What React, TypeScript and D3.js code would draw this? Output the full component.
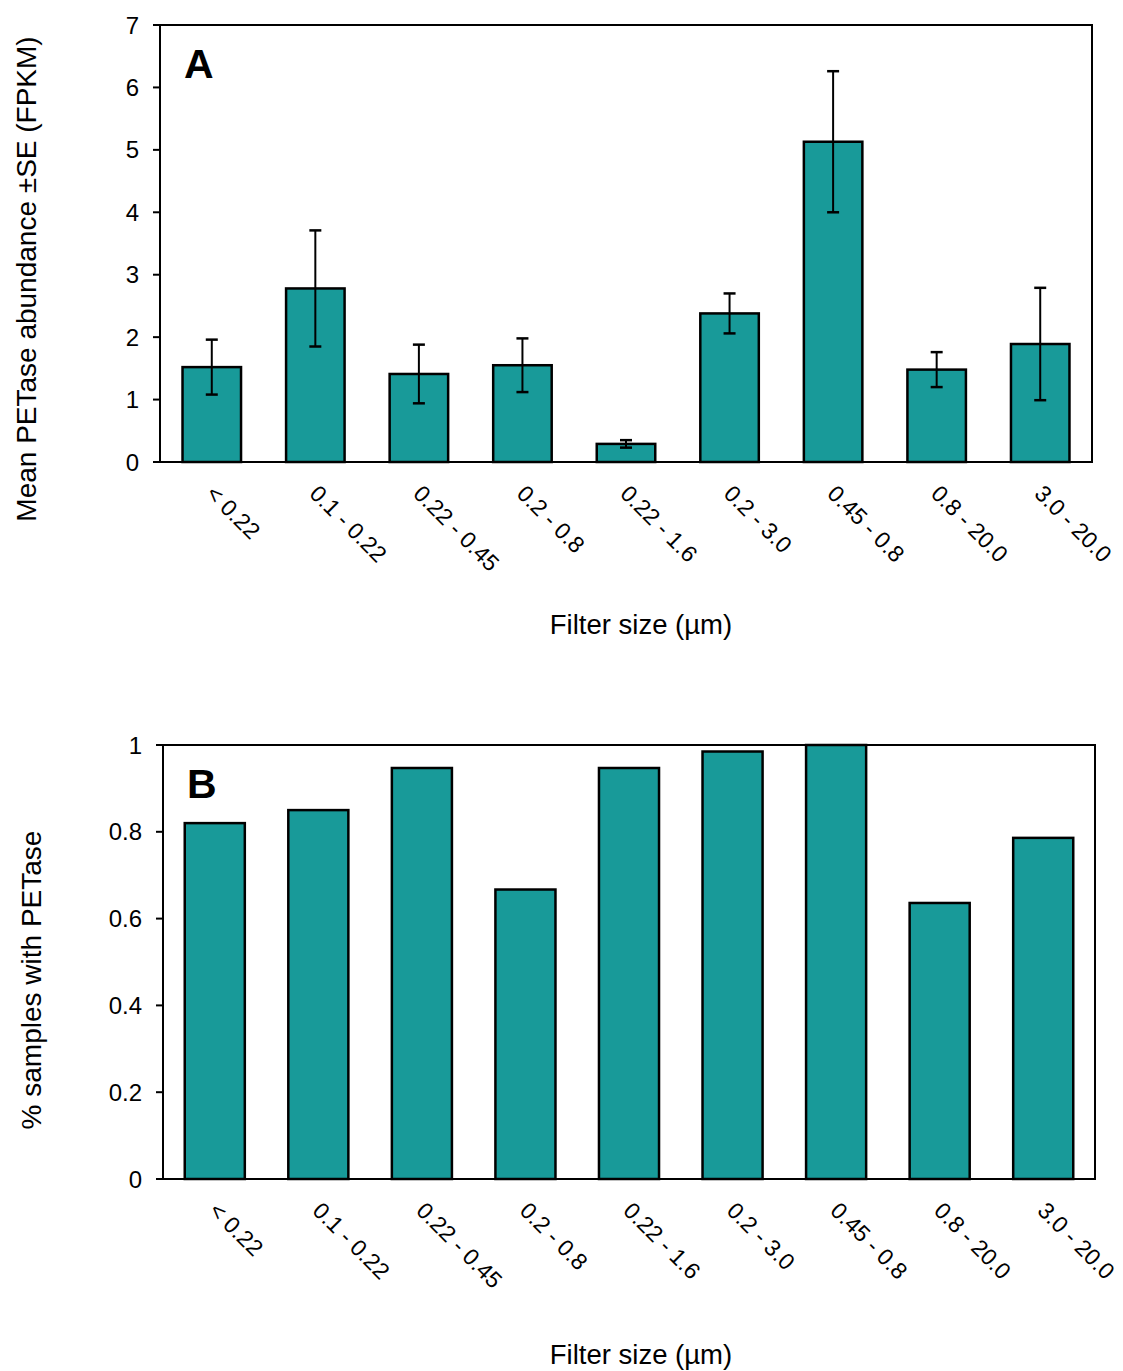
import * as d3 from "d3";

// categories shared by both panels
const filterSizes = ["< 0.22", "0.1 - 0.22", "0.22 - 0.45", "0.2 - 0.8", "0.22 - 1.6", "0.2 - 3.0", "0.45 - 0.8", "0.8 - 20.0", "3.0 - 20.0"];

// panel A: mean abundance and standard error
const meanAbundance = [1.52, 2.78, 1.41, 1.55, 0.29, 2.38, 5.13, 1.48, 1.89];
const abundanceSE = [0.44, 0.93, 0.47, 0.43, 0.06, 0.32, 1.13, 0.28, 0.9];
const ticksA = [0, 1, 2, 3, 4, 5, 6, 7];

// panel B: fraction of samples with PETase
const fractionWithPETase = [0.82, 0.85, 0.947, 0.667, 0.947, 0.985, 1.0, 0.636, 0.786];
const ticksB = [0, 0.2, 0.4, 0.6, 0.8, 1];

const FONT = "Liberation Sans, Arial, Helvetica, sans-serif";
const TEAL = "#189a99";

type PanelProps = {
  box: { left: number; right: number; top: number; bottom: number };
  values: number[];
  errors?: number[];
  ticks: number[];
  yMax: number;
  inner: number;
  letter: string;
  yLabel: string;
  yLabelPos: [number, number];
  titleY: number;
};

function Panel({ box, values, errors, ticks, yMax, inner, letter, yLabel, yLabelPos, titleY }: PanelProps) {
  const x = d3.scaleBand<string>()
    .domain(filterSizes)
    .range([box.left, box.right])
    .paddingInner(inner)
    .paddingOuter(inner / 2);
  const y = d3.scaleLinear().domain([0, yMax]).range([box.bottom, box.top]);
  const bw = x.bandwidth();
  const capW = 12;

  return (
    <g fontFamily={FONT}>
      {/* bars */}
      {filterSizes.map((c, i) => (
        <rect key={c} x={x(c)} y={y(values[i])} width={bw} height={y(0) - y(values[i])}
          fill={TEAL} stroke="#000" strokeWidth={2.5} />
      ))}
      {/* error bars */}
      {errors && filterSizes.map((c, i) => {
        const cx = (x(c) as number) + bw / 2;
        const hi = y(values[i] + errors[i]);
        const lo = y(values[i] - errors[i]);
        return (
          <g key={"e" + c} stroke="#000" strokeWidth={2}>
            <line x1={cx} x2={cx} y1={hi} y2={lo} />
            <line x1={cx - capW / 2} x2={cx + capW / 2} y1={hi} y2={hi} strokeWidth={2.5} />
            <line x1={cx - capW / 2} x2={cx + capW / 2} y1={lo} y2={lo} strokeWidth={2.5} />
          </g>
        );
      })}
      {/* frame */}
      <rect x={box.left} y={box.top} width={box.right - box.left} height={box.bottom - box.top}
        fill="none" stroke="#000" strokeWidth={2} />
      {/* y ticks */}
      {ticks.map((t) => (
        <g key={t}>
          <line x1={box.left - 7} x2={box.left} y1={y(t)} y2={y(t)} stroke="#000" strokeWidth={2} />
          <text x={box.left - 21} y={y(t)} dy="0.36em" textAnchor="end" fontSize={24}>
            {d3.format("~g")(t)}
          </text>
        </g>
      ))}
      {/* x labels */}
      {filterSizes.map((c) => {
        const cx = (x(c) as number) + bw / 2;
        return (
          <text key={"l" + c} transform={`translate(${cx - 7},${box.bottom + 33}) rotate(45)`} fontSize={23}>
            {c}
          </text>
        );
      })}
      <text x={641} y={titleY} textAnchor="middle" fontSize={27.5}>
        Filter size (µm)
      </text>
      <text transform={`translate(${yLabelPos[0]},${yLabelPos[1]}) rotate(-90)`} textAnchor="middle" fontSize={28}>
        {yLabel}
      </text>
      <text x={box.left + 24} y={box.top + 53} fontSize={41} fontWeight="bold">{letter}</text>
    </g>
  );
}

export default function App() {
  return (
    <svg width={1123} height={1371} style={{ position: "absolute", left: 0, top: 0, background: "#fff" }}>
      <Panel box={{ left: 160, right: 1092, top: 25, bottom: 462 }} values={meanAbundance} errors={abundanceSE}
        ticks={ticksA} yMax={7} inner={0.435} letter="A" yLabel="Mean PETase abundance ±SE (FPKM)"
        yLabelPos={[36, 279]} titleY={634} />
      <Panel box={{ left: 163, right: 1095, top: 745, bottom: 1179 }} values={fractionWithPETase}
        ticks={ticksB} yMax={1} inner={0.42} letter="B" yLabel="% samples with PETase"
        yLabelPos={[41, 980]} titleY={1364} />
    </svg>
  );
}
